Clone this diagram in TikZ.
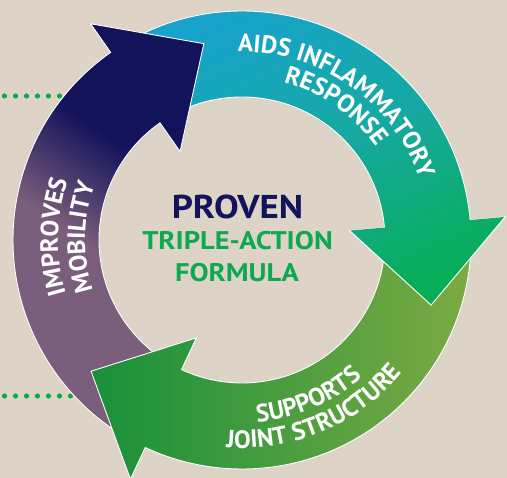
\documentclass[tikz,border=0pt]{standalone}
\usepackage{fontspec}
\setmainfont{PT Sans}
\newfontfamily\widesans[FakeStretch=1.12]{PT Sans}
\usetikzlibrary{decorations.text}

\definecolor{paper}{HTML}{DDD3C6}
\definecolor{navyblue}{HTML}{12135B}
\definecolor{mauve}{HTML}{7B5E7B}
\definecolor{skyblue}{HTML}{17A3CB}
\definecolor{tealmid}{HTML}{16A9A2}
\definecolor{leafgreen}{HTML}{08AD57}
\definecolor{deepgreen}{HTML}{17903A}
\definecolor{olive}{HTML}{7DAA43}
\definecolor{dotgreen}{HTML}{10A84A}
\definecolor{textgreen}{HTML}{0DA84F}

\newcommand\arcfont{\bfseries\fontsize{25}{25}\selectfont\color{white}}

\pgfdeclareverticalshading{mobility}{100bp}{color(0bp)=(mauve); color(46bp)=(mauve);
    color(62bp)=(navyblue); color(100bp)=(navyblue)}

\tikzset{
    arrow body/.style args={#1/#2/#3}{
        insert path={
            (#1:\rout) arc[start angle=#1, end angle=#2, radius=\rout]
            -- (#2:\rbarbout) -- (#3:\rtip) -- (#2:\rbarbin)
            -- (#2:\rin) arc[start angle=#2, end angle=#1, radius=\rin] -- cycle
        }},
    arrow head/.style args={#1/#2}{
        insert path={(#1:\rbarbout) -- (#2:\rtip) -- (#1:\rbarbin) -- cycle}},
    band line/.style={draw=white, line width=0.9pt},
    purple shade/.style={shading=mobility, shading angle=-35},
    blue shade/.style={top color=skyblue, bottom color=leafgreen, middle color=tealmid, shading angle=25},
    green shade/.style={left color=deepgreen, right color=olive},
    arc text/.style={decorate, decoration={text along path, text={|\arcfont|#1}, text align=center}},
    centre text/.style={anchor=base, font=\widesans\bfseries\fontsize{#1}{#1}\selectfont},
}

\begin{document}
\begin{tikzpicture}[x=1pt, y=1pt]

    \def\rout{229}
    \def\rin{143}
    \def\rbarbout{264}
    \def\rbarbin{108}
    \def\rtip{200}

    \useasboundingbox[fill=paper] (-242,-238) rectangle (265,240);

    % dotted leaders
    \foreach \i in {0,...,5} \fill[dotgreen] (-237.5+11*\i,144) circle [radius=2.6];
    \foreach \i in {0,...,6} \fill[dotgreen] (-237.5+11*\i,-156) circle [radius=2.6];

    % the three arrows, each head over the next tail
    \path[blue shade, band line, arrow body=119/5/-19];
    \path[purple shade, band line, arrow body=239/125/101];
    \path[green shade, band line, arrow body=359/245/221];
    \begin{scope}
        \clip[arrow head=5/-19];
        \path[blue shade, arrow body=119/5/-19];
    \end{scope}
    \draw[band line] (5:\rbarbout) -- (-19:\rtip) -- (5:\rbarbin);

    % labels on the ring
    \path[arc text=AIDS INFLAMMATORY] (120:188) arc[start angle=120, end angle=-10, radius=188];
    \path[arc text=RESPONSE] (120:163) arc[start angle=120, end angle=-10, radius=163];
    \path[arc text=IMPROVES] (244:184) arc[start angle=244, end angle=114, radius=184];
    \path[arc text=MOBILITY] (244:157) arc[start angle=244, end angle=114, radius=157];
    \path[arc text=SUPPORTS] (-132:183) arc[start angle=-132, end angle=-2, radius=183];
    \path[arc text=JOINT STRUCTURE] (-132:208) arc[start angle=-132, end angle=-2, radius=208];

    \node[centre text=33, text=navyblue] (proven) at (-4.5,21.7) {PROVEN};
    \node[centre text=25.5, text=textgreen] (triple) at (-4.5,-10) {TRIPLE-ACTION};
    \node[centre text=25.5, text=textgreen] (formula) at (-5,-41.7) {FORMULA};

\end{tikzpicture}
\end{document}
